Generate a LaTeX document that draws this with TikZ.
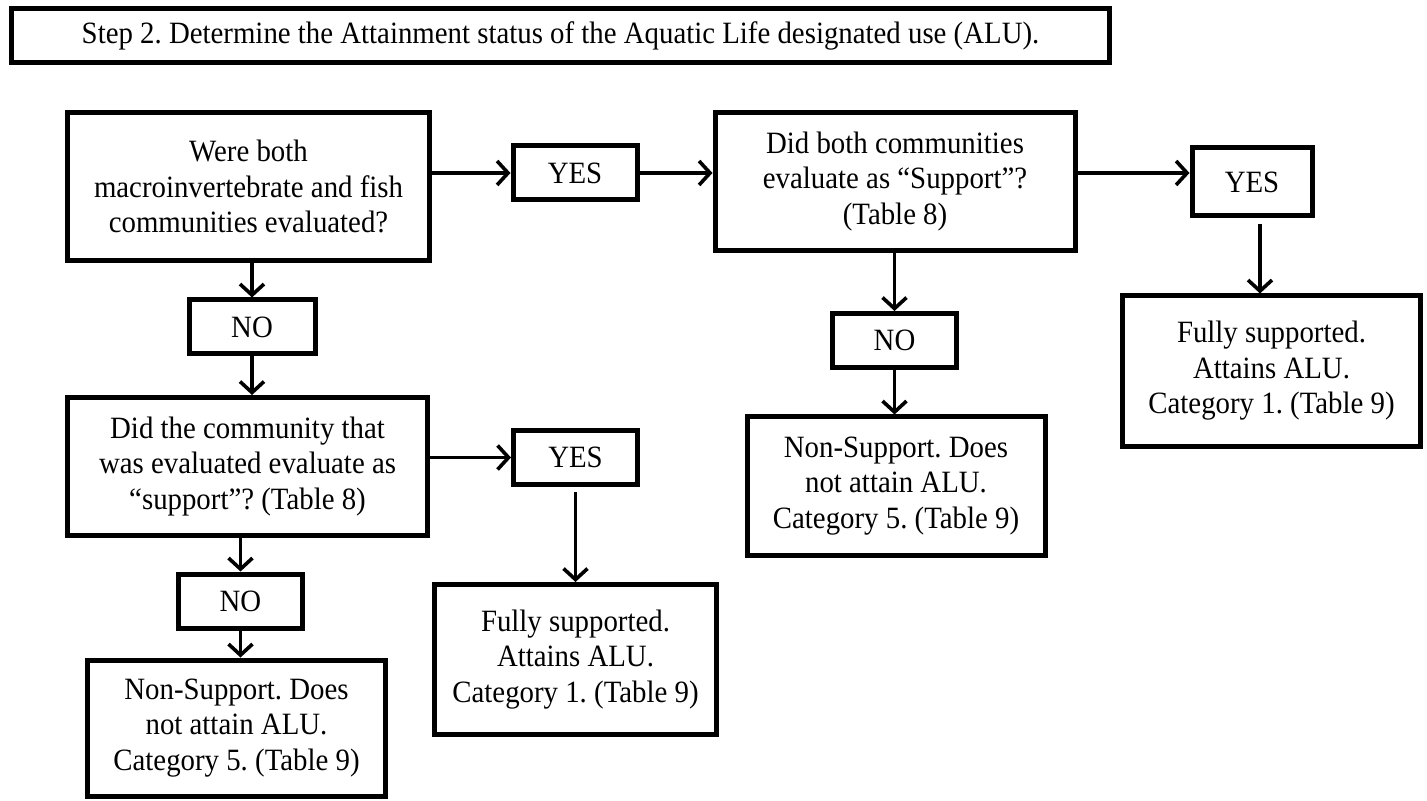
\documentclass[tikz,border=0pt]{standalone}
\usepackage{fontspec}
\setmainfont{Liberation Serif}[FakeStretch=0.93]
\usetikzlibrary{arrows.meta}
\frenchspacing
\tikzset{
    box/.style={draw,line width=2.5pt,align=center,inner sep=0pt,
        font=\fontsize{15.5}{17.75}\selectfont},
    arr/.style={line width=1.8pt,-{Straight Barb[length=5.5pt,width=12pt,line width=1.8pt]}}
}
\begin{document}
\begin{tikzpicture}[x=0.5pt,y=-0.5pt]
        \useasboundingbox (0,0) rectangle (1427,801);
        \node[box,minimum width=549pt,minimum height=27pt] at (560.5,35.5) (title) {Step 2. Determine the Attainment status of the Aquatic Life designated use (ALU).};
        % both communities
        \node[box,minimum width=181pt,minimum height=74pt] at (248.5,186.5) (both) {Were both\\macroinvertebrate and fish\\communities evaluated?};
        \node[box,minimum width=62pt,minimum height=27pt] at (575,173) (yesboth) {YES};
        \node[box,minimum width=180pt,minimum height=69pt] at (895,181.5) (bothsup) {Did both communities\\evaluate as “Support”?\\(Table 8)};
        \node[box,minimum width=60pt,minimum height=34pt] at (1252,182) (yessup) {YES};
        \node[box,minimum width=149pt,minimum height=75pt] at (1271.5,371) (fullsup) {Fully supported.\\Attains ALU.\\Category 1. (Table 9)};
        \node[box,minimum width=62pt,minimum height=27pt] at (894.5,340.5) (nosup) {NO};
        \node[box,minimum width=149pt,minimum height=69pt] at (896,486) (nonsup) {Non-Support. Does\\not attain ALU.\\Category 5. (Table 9)};
        % one community
        \node[box,minimum width=63pt,minimum height=27pt] at (252,327) (noboth) {NO};
        \node[box,minimum width=180pt,minimum height=69pt] at (247.5,466.5) (onesup) {Did the community that\\was evaluated evaluate as\\“support”? (Table 8)};
        \node[box,minimum width=62pt,minimum height=27pt] at (575.5,457.5) (yesone) {YES};
        \node[box,minimum width=141pt,minimum height=75pt] at (575.5,659.5) (fullone) {Fully supported.\\Attains ALU.\\Category 1. (Table 9)};
        \node[box,minimum width=62pt,minimum height=27pt] at (240.5,601) (noone) {NO};
        \node[box,minimum width=149pt,minimum height=68pt] at (236.5,728) (nonone) {Non-Support. Does\\not attain ALU.\\Category 5. (Table 9)};
        % connectors
        \draw[arr] (both.east |- yesboth) -- (yesboth.west);
        \draw[arr] (yesboth.east) -- (yesboth.east -| bothsup.west);
        \draw[arr] (bothsup.east |- yesboth) -- (yesboth -| yessup.west);
        \draw[arr,shorten <=3pt] ([xshift=4pt]yessup.south) -- ([xshift=4pt]yessup.south |- fullsup.north);
        \draw[arr] (bothsup.south -| nosup) -- (nosup.north);
        \draw[arr] (nosup.south) -- (nosup.south |- nonsup.north);
        \draw[arr] (both.south -| noboth) -- (noboth.north);
        \draw[arr] (noboth.south) -- (noboth.south |- onesup.north);
        \draw[arr] (onesup.east |- yesone) -- (yesone.west);
        \draw[arr,shorten <=2.5pt] (yesone.south) -- (yesone.south |- fullone.north);
        \draw[arr] (onesup.south -| noone) -- (noone.north);
        \draw[arr] (noone.south) -- (noone.south |- nonone.north);
\end{tikzpicture}
\end{document}
